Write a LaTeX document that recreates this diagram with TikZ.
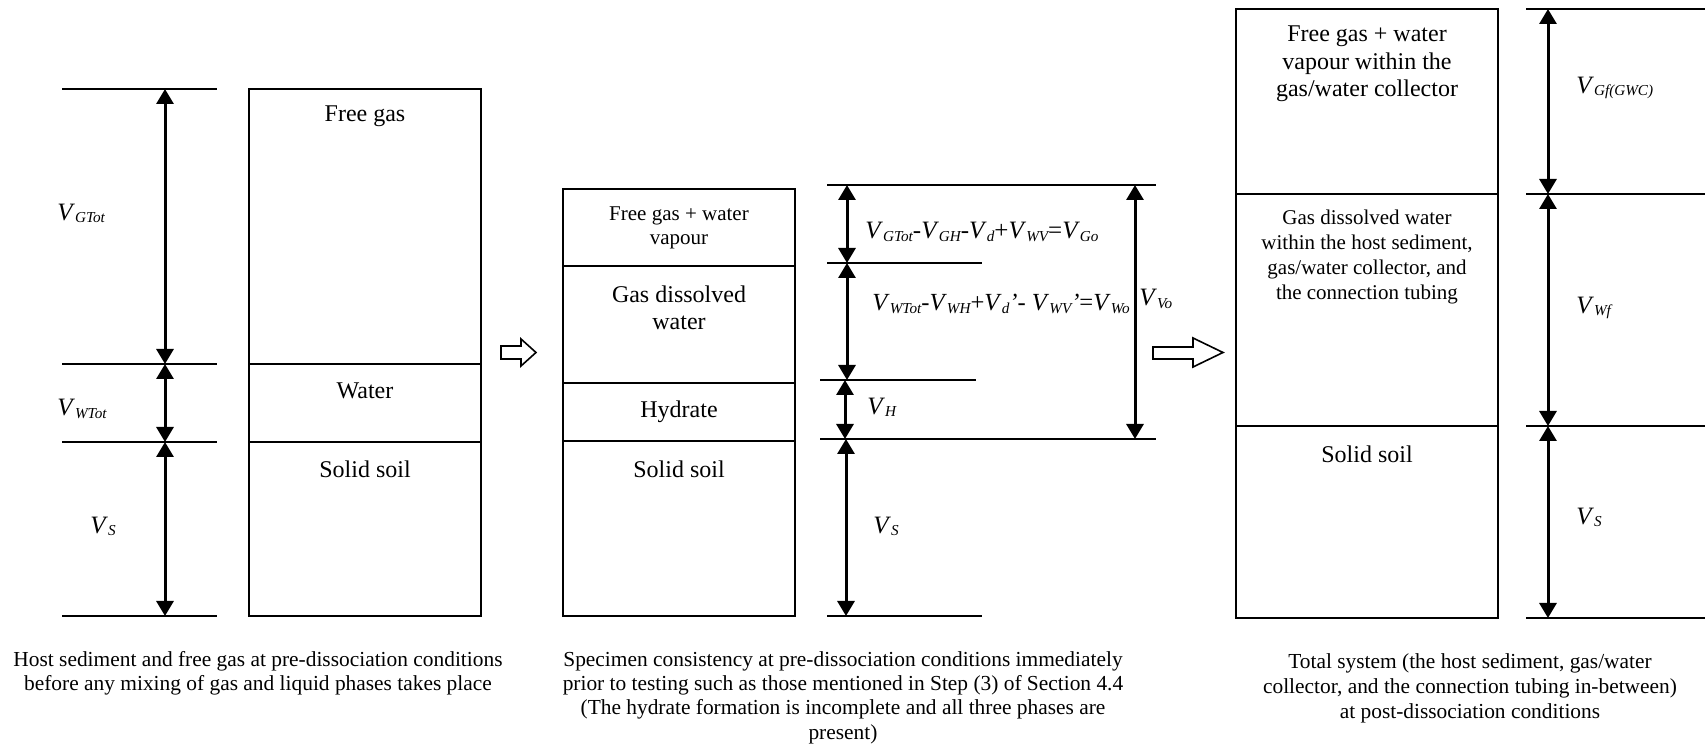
\documentclass[tikz,border=0pt]{standalone}
\usepackage{fontspec}
\setmainfont{Liberation Serif}
\usetikzlibrary{arrows.meta}
\newcommand{\Vsub}[1]{\textit{V}\raisebox{-1.1pt}{\fontsize{7.6}{8}\selectfont\itshape #1}}
\begin{document}
\begin{tikzpicture}[x=0.5pt,y=-0.5pt,
  layer/.style={line width=1.15pt},
  dimline/.style={line width=1pt},
  dimarrow/.style={line width=1.5pt,{Triangle[width=8.5pt,length=7.5pt]}-{Triangle[width=8.5pt,length=7.5pt]}},
  boxtxt/.style={font=\fontsize{12}{13.5}\selectfont,align=center,inner sep=0pt},
  boxtxtb/.style={font=\fontsize{12}{13.75}\selectfont,align=center,inner sep=0pt},
  smalltxt/.style={font=\fontsize{10.5}{12.5}\selectfont,align=center,inner sep=0pt},
  lbl/.style={font=\fontsize{12.5}{14}\selectfont,anchor=west,inner sep=0pt},
  captxt/.style={font=\fontsize{10.7}{12.2}\selectfont,align=center,inner sep=0pt},
  hollow/.style={draw,line width=0.8pt,fill=white,line join=miter}
]
\useasboundingbox (0,0) rectangle (1705,747);

% ---------------- Diagram 1 ----------------
\draw[layer] (249,89) rectangle (481,616);
\draw[layer] (249,364) -- (481,364);
\draw[layer] (249,442) -- (481,442);
\node[boxtxt] (fg1) at (365,116) {Free gas};
\node[boxtxt] (w1) at (365,391) {Water};
\node[boxtxt] (ss1) at (365,469) {Solid soil};
\foreach \yy in {89,364,442,616} {\draw[dimline] (62,\yy) -- (217,\yy);}
\coordinate (p1a) at (165,89);
\coordinate (p1b) at (165,364);
\coordinate (p1c) at (165,442);
\coordinate (p1d) at (165,616);
\draw[dimarrow] (p1a) -- (p1b);
\draw[dimarrow] (p1b) -- (p1c);
\draw[dimarrow] (p1c) -- (p1d);
\node[lbl] (vg1) at (57,213) {\Vsub{GTot}};
\node[lbl] (vw1) at (57,409) {\Vsub{WTot}};
\node[lbl] (vs1) at (90,526) {\Vsub{S}};
\node[captxt] (c1) at (258,673) {Host sediment and free gas at pre-dissociation conditions\\before any mixing of gas and liquid phases takes place};

% hollow arrow 1
\draw[hollow] (501,346) -- (521,346) -- (521,339) -- (536,352.5) -- (521,366) -- (521,359) -- (501,359) -- cycle;

% ---------------- Diagram 2 ----------------
\draw[layer] (563,189) rectangle (795,616);
\draw[layer] (563,266) -- (795,266);
\draw[layer] (563,383) -- (795,383);
\draw[layer] (563,441) -- (795,441);
\node[smalltxt,font=\fontsize{10.5}{12}\selectfont] (fg2) at (679,227.5) {Free gas + water\\vapour};
\node[boxtxt] (gd2) at (679,308) {Gas dissolved\\water};
\node[boxtxt] (hy2) at (679,412) {Hydrate};
\node[boxtxt] (ss2) at (679,469) {Solid soil};
\draw[dimline] (827,185) -- (1156,185);
\draw[dimline] (827,263) -- (982,263);
\draw[dimline] (820,380) -- (976,380);
\draw[dimline] (820,439) -- (1156,439);
\draw[dimline] (827,616) -- (982,616);
\coordinate (p2a) at (847,185);
\coordinate (p2b) at (847,263);
\coordinate (p2c) at (847,380);
\coordinate (p2c2) at (845,380);
\coordinate (p2d2) at (845,439);
\coordinate (p2d) at (846,439);
\coordinate (p2e) at (846,616);
\coordinate (p2t) at (1135,185);
\coordinate (p2u) at (1135,439);
\draw[dimarrow] (p2a) -- (p2b);
\draw[dimarrow] (p2b) -- (p2c);
\draw[dimarrow] (p2c2) -- (p2d2);
\draw[dimarrow] (p2d) -- (p2e);
\draw[dimarrow] (p2t) -- (p2u);
\node[lbl] (eq1) at (865,232) {\Vsub{GTot}-\Vsub{GH}-\Vsub{d}+\Vsub{WV}=\Vsub{Go}};
\node[lbl,font=\fontsize{12.3}{14}\selectfont] (eq2) at (872,304) {\Vsub{WTot}-\Vsub{WH}+\Vsub{d}\textit{'}- \Vsub{WV}\textit{'}=\Vsub{Wo}};
\node[lbl] (vvo) at (1139,299) {\Vsub{Vo}};
\node[lbl] (vh2) at (867,407) {\Vsub{H}};
\node[lbl] (vs2) at (873,526) {\Vsub{S}};
\node[captxt] (c2) at (843,697.5) {Specimen consistency at pre-dissociation conditions immediately\\prior to testing such as those mentioned in Step (3) of Section 4.4\\(The hydrate formation is incomplete and all three phases are\\present)};

% hollow arrow 2
\draw[hollow] (1153,347) -- (1193,347) -- (1193,338) -- (1223,352.5) -- (1193,367) -- (1193,359) -- (1153,359) -- cycle;

% ---------------- Diagram 3 ----------------
\draw[layer] (1236,9) rectangle (1498,618);
\draw[layer] (1236,194) -- (1498,194);
\draw[layer] (1236,426) -- (1498,426);
\node[boxtxtb] (fg3) at (1367,64) {Free gas + water\\vapour within the\\gas/water collector};
\node[smalltxt] (gd3) at (1367,257) {Gas dissolved water\\within the host sediment,\\gas/water collector, and\\the connection tubing};
\node[boxtxt] (ss3) at (1367,454) {Solid soil};
\foreach \yy in {9,194,426,618} {\draw[dimline] (1526,\yy) -- (1705,\yy);}
\coordinate (p3a) at (1548,9);
\coordinate (p3b) at (1548,194);
\coordinate (p3c) at (1548,426);
\coordinate (p3d) at (1548,618);
\draw[dimarrow] (p3a) -- (p3b);
\draw[dimarrow] (p3b) -- (p3c);
\draw[dimarrow] (p3c) -- (p3d);
\node[lbl] (vg3) at (1576,88) {\Vsub{Gf(GWC)}};
\node[lbl] (vw3) at (1576,308) {\Vsub{Wf}};
\node[lbl] (vs3) at (1576,517) {\Vsub{S}};
\node[captxt,font=\fontsize{10.7}{12.5}\selectfont] (c3) at (1470,688) {Total system (the host sediment, gas/water\\collector, and the connection tubing in-between)\\at post-dissociation conditions};
\end{tikzpicture}
\end{document}
